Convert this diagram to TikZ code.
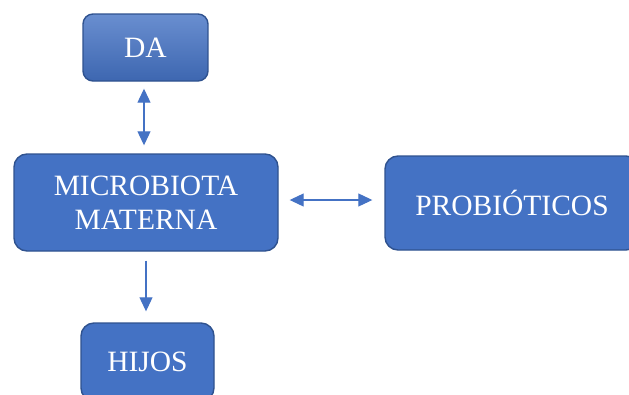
\documentclass[tikz,border=0pt]{standalone}
\usepackage{fontspec}
\setmainfont{Liberation Serif}
\usepackage{tikz}
\usetikzlibrary{arrows.meta}
\definecolor{boxblue}{HTML}{4472C4}
\definecolor{boxedge}{HTML}{2F528F}
\tikzset{
  caja/.style={draw=boxedge,line width=1.4pt,fill=boxblue,rounded corners=13pt,
    text=white,align=center,font=\fontsize{29.5}{34}\selectfont,inner sep=0pt},
  flecha/.style={draw=boxblue,line width=1.1pt,{Triangle[length=14pt,width=13pt]}-{Triangle[length=14pt,width=13pt]}},
  flechauna/.style={draw=boxblue,line width=1.1pt,-{Triangle[length=14pt,width=13pt]}}
}

\begin{document}
\begin{tikzpicture}[x=1pt,y=-1pt]
    \useasboundingbox (0,0) rectangle (629,394);
    \clip (0,0) rectangle (629,394);
    % cajas
    \node (da) at (145.5,47.5) [caja,rounded corners=10pt,shading=axis,fill=none,
      top color=boxblue!80!white,bottom color=boxblue!90!black,
      minimum width=125pt,minimum height=67pt]{DA};
    \node (micro) at (146,202.5) [caja,minimum width=264pt,minimum height=97pt]{
      MICROBIOTA\\MATERNA
    };
    \node (probio) at (512,203) [caja,minimum width=254pt,minimum height=94pt]{PROBIÓTICOS};
    \node (hijos) at (147.5,362) [caja,minimum width=133pt,minimum height=78pt]{HIJOS};

    % flechas
    \draw[flecha] ([yshift=-7pt]da.south -| 144,0) -- ([yshift=8pt]micro.north -| 144,0);
    \draw[flecha] ([xshift=11pt,yshift=2.5pt]micro.east) -- ([xshift=-12pt,yshift=2.5pt]micro.east -| probio.west);
    \draw[flechauna] ([yshift=-9pt]micro.south) -- ([yshift=11pt]hijos.north -| micro.south);
  \end{tikzpicture}
\end{document}
